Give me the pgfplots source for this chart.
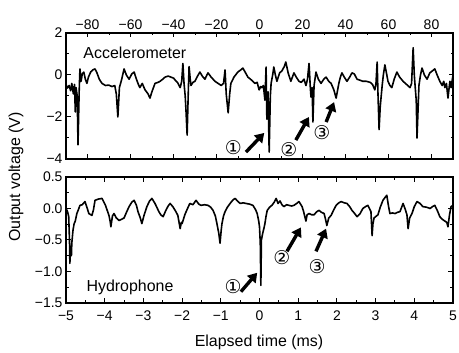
\documentclass[border=0pt]{standalone}
\usepackage{pgfplots}
\pgfplotsset{compat=1.18}
\usepackage{pgfplotstable}
\usepackage{fontspec}
\setmainfont{Liberation Sans}
\newfontfamily\dejavu{DejaVu Sans}
\usetikzlibrary{arrows.meta}

\pgfplotstableread{
t v
-5.00 -0.45
-4.96 -0.62
-4.92 -0.50
-4.88 -0.75
-4.85 -0.40
-4.81 -0.90
-4.78 -0.45
-4.76 -1.76
-4.74 -0.60
-4.71 -1.00
-4.69 -3.33
-4.66 -0.80
-4.64 0.29
-4.61 -0.30
-4.58 0.05
-4.54 0.14
-4.50 -0.20
-4.46 -0.40
-4.42 -0.10
-4.36 0.15
-4.30 0.25
-4.25 0.29
-4.20 0.10
-4.14 -0.20
-4.07 -0.40
-3.98 -0.50
-3.90 -0.48
-3.81 -0.55
-3.74 -0.50
-3.70 -0.90
-3.66 -2.00
-3.62 -0.60
-3.56 -0.20
-3.50 0.29
-3.44 0.00
-3.37 -0.20
-3.30 0.05
-3.24 0.14
-3.18 -0.20
-3.13 -0.45
-3.09 -0.60
-3.03 -0.40
-2.96 -0.70
-2.88 -0.90
-2.83 -1.10
-2.78 -0.80
-2.70 -0.40
-2.62 -0.35
-2.57 -0.30
-2.50 -0.20
-2.44 -0.10
-2.36 -0.05
-2.29 -0.10
-2.22 -0.15
-2.18 -0.24
-2.12 -0.35
-2.05 -0.60
-2.01 -0.30
-1.98 0.55
-1.95 -0.40
-1.92 -1.00
-1.90 -1.67
-1.87 -2.86
-1.84 -0.80
-1.82 0.40
-1.79 -0.20
-1.77 -0.50
-1.72 -0.35
-1.67 -0.30
-1.60 -0.05
-1.54 0.14
-1.48 -0.05
-1.41 -0.20
-1.36 0.00
-1.33 0.10
-1.25 -0.10
-1.15 -0.30
-1.07 -0.40
-0.99 -0.50
-0.93 -0.40
-0.89 0.24
-0.86 -0.90
-0.81 -1.80
-0.77 -0.90
-0.74 -0.40
-0.66 -0.10
-0.56 0.14
-0.48 0.25
-0.43 0.33
-0.36 0.10
-0.30 -0.10
-0.20 -0.25
-0.12 -0.40
-0.06 -0.35
-0.01 -0.71
0.03 -0.55
0.06 -0.60
0.10 -0.50
0.14 -1.20
0.17 0.38
0.19 -2.10
0.22 -0.80
0.25 -3.67
0.28 -1.00
0.30 -0.40
0.34 0.00
0.37 0.38
0.41 0.00
0.45 -0.30
0.52 0.10
0.58 0.20
0.64 0.40
0.68 0.62
0.74 0.10
0.81 -0.30
0.85 -0.10
0.89 0.10
0.95 -0.10
1.02 -0.30
1.08 -0.35
1.15 -0.20
1.20 -0.50
1.24 -0.20
1.28 0.55
1.31 -0.50
1.33 -1.05
1.36 -0.60
1.38 -2.24
1.41 -0.50
1.46 0.14
1.52 -0.20
1.59 -0.40
1.66 -0.20
1.72 -0.10
1.79 -0.30
1.85 -0.40
1.92 -0.70
1.98 -1.10
2.02 -0.70
2.05 -0.40
2.09 -0.10
2.13 0.10
2.19 -0.10
2.26 -0.30
2.33 -0.10
2.39 0.10
2.45 0.05
2.52 -0.20
2.60 -0.25
2.67 -0.30
2.76 -0.30
2.86 -0.35
2.92 -0.45
2.98 -0.71
3.01 -0.40
3.04 0.62
3.06 -0.80
3.09 -2.60
3.12 -1.50
3.17 -0.50
3.20 0.00
3.24 0.48
3.28 0.10
3.32 -0.30
3.37 -0.50
3.42 -0.60
3.48 -0.20
3.55 0.14
3.62 -0.10
3.71 -0.30
3.80 -0.45
3.89 -0.60
3.93 -0.40
3.97 1.30
4.00 0.00
4.02 -0.50
4.05 -1.20
4.07 -3.00
4.10 -1.50
4.12 -0.50
4.16 0.00
4.20 0.33
4.26 0.00
4.33 -0.20
4.40 0.10
4.47 0.20
4.53 0.29
4.59 0.00
4.66 -0.30
4.72 -0.50
4.76 -0.30
4.79 -0.60
4.83 -0.40
4.87 -1.10
4.90 -0.60
4.92 -0.30
4.95 -0.60
5.00 0.00
}\accel

\pgfplotstableread{
t v
-5.00 0.00
-4.96 -0.05
-4.93 -0.13
-4.91 -0.50
-4.90 -0.87
-4.88 -0.60
-4.86 -0.75
-4.85 -0.55
-4.82 -0.35
-4.79 -0.24
-4.76 -0.20
-4.72 -0.08
-4.68 -0.02
-4.64 0.05
-4.58 0.06
-4.51 0.11
-4.46 0.02
-4.41 -0.08
-4.33 -0.11
-4.29 -0.02
-4.25 0.13
-4.16 0.15
-4.07 0.16
-3.98 0.05
-3.89 -0.11
-3.86 -0.20
-3.84 -0.29
-3.80 -0.12
-3.76 -0.08
-3.70 -0.15
-3.63 -0.19
-3.56 -0.17
-3.50 -0.15
-3.43 -0.05
-3.37 0.03
-3.30 0.10
-3.24 0.13
-3.18 0.05
-3.14 -0.05
-3.08 -0.15
-3.04 -0.24
-2.98 -0.10
-2.91 0.03
-2.84 0.12
-2.78 0.16
-2.70 0.08
-2.60 -0.05
-2.55 -0.10
-2.49 -0.13
-2.42 -0.03
-2.36 0.04
-2.31 0.08
-2.24 0.03
-2.16 -0.05
-2.11 -0.11
-2.07 -0.25
-2.05 -0.32
-2.02 -0.22
-2.00 -0.24
-1.93 -0.10
-1.86 0.00
-1.80 0.08
-1.72 0.06
-1.64 0.13
-1.57 0.07
-1.51 0.05
-1.42 0.06
-1.33 0.05
-1.26 0.02
-1.20 -0.03
-1.14 -0.12
-1.10 -0.24
-1.05 -0.40
-1.02 -0.55
-0.99 -0.35
-0.97 -0.24
-0.93 -0.12
-0.89 -0.05
-0.83 0.02
-0.76 0.08
-0.68 0.14
-0.63 0.16
-0.57 0.12
-0.50 0.08
-0.42 0.09
-0.35 0.08
-0.26 0.07
-0.17 0.05
-0.10 -0.02
-0.06 -0.08
-0.02 -0.20
0.00 -0.29
0.02 -0.55
0.035 -1.22
0.05 -0.50
0.08 -0.40
0.12 -0.30
0.14 -0.24
0.17 -0.12
0.20 -0.03
0.26 0.02
0.32 0.05
0.38 0.10
0.43 0.16
0.48 0.08
0.53 0.12
0.58 0.06
0.63 0.03
0.70 0.06
0.76 0.05
0.83 0.04
0.89 0.05
0.96 0.08
1.02 0.11
1.07 0.06
1.10 0.03
1.14 -0.05
1.18 -0.15
1.20 -0.20
1.23 -0.10
1.28 -0.08
1.35 -0.10
1.41 -0.10
1.48 -0.05
1.54 -0.03
1.60 -0.06
1.67 -0.08
1.71 -0.18
1.74 -0.27
1.79 -0.15
1.85 -0.11
1.92 -0.02
1.98 0.05
2.05 0.09
2.11 0.11
2.19 0.09
2.26 0.08
2.33 0.03
2.39 -0.03
2.46 -0.08
2.52 -0.13
2.60 -0.08
2.67 0.00
2.74 0.03
2.80 0.05
2.88 -0.05
2.91 -0.43
2.93 -0.25
2.96 -0.15
3.06 -0.10
3.12 0.02
3.19 0.13
3.25 0.18
3.29 0.21
3.33 0.05
3.37 -0.08
3.44 -0.07
3.50 -0.08
3.57 -0.06
3.63 -0.05
3.71 0.08
3.77 -0.02
3.81 -0.10
3.84 -0.32
3.88 -0.15
3.94 -0.08
4.00 0.03
4.07 0.11
4.15 0.08
4.22 0.03
4.32 0.02
4.41 0.00
4.47 0.03
4.53 0.05
4.60 -0.04
4.66 -0.13
4.72 -0.17
4.79 -0.20
4.84 -0.22
4.87 -0.29
4.91 -0.10
4.95 0.03
5.00 0.05
}\hydro

\pgfplotsset{
  panel/.style={
    scale only axis, width=387bp, height=126bp, anchor=south west,
    axis line style={line width=1.1bp},
    tick align=inside, tick pos=both,
    major tick length=4.5bp, minor tick length=2.5bp,
    every tick/.style={line width=1bp, black},
    ticklabel style={font=\fontsize{14}{14}\selectfont},
    clip=true,
  },
}
\tikzset{
  arr/.style={line width=3.4bp, -{Triangle[length=9bp,width=11bp]}},
  circ/.style={font=\dejavu\fontsize{19}{19}\selectfont, inner sep=0pt},
}

\begin{document}
\begin{tikzpicture}
\begin{axis}[panel, at={(66bp,194bp)},
  xmin=-90, xmax=90, ymin=-4, ymax=2,
  xtick={-80,-60,-40,-20,0,20,40,60,80},
  xticklabels={−80,−60,−40,−20,0,20,40,60,80},
  minor xtick={-90,-70,-50,-30,-10,10,30,50,70,90},
  xticklabel pos=upper,
  ytick={-4,-2,0,2}, yticklabels={−4,−2,0,2},
  minor ytick={-3,-1,1},
]
\addplot[black, line width=1.6bp, line join=round] table[x expr=\thisrow{t}*18, y=v] {\accel};
\node[anchor=west, font=\fontsize{16}{16}\selectfont] at (axis cs:-83.5,1.05) {Accelerometer};
\node[circ] at (axis cs:-12.2,-3.48) {①};
\node[circ] at (axis cs:13.7,-3.57) {②};
\node[circ] at (axis cs:29.0,-2.76) {③};
\draw[arr] (axis cs:-6.3,-3.67) -- (axis cs:2.2,-2.76);
\draw[arr] (axis cs:16.9,-3.10) -- (axis cs:23.0,-2.0);
\draw[arr] (axis cs:31.0,-2.24) -- (axis cs:34.7,-1.29);
\end{axis}

\begin{axis}[panel, at={(66bp,50bp)},
  xmin=-5, xmax=5, ymin=-1.5, ymax=0.5,
  xtick={-5,-4,-3,-2,-1,0,1,2,3,4,5},
  xticklabels={−5,−4,−3,−2,−1,0,1,2,3,4,5},
  minor x tick num=1,
  xticklabel style={yshift=-4bp},
  ytick={-1.5,-1,-0.5,0,0.5}, yticklabels={−1.5,−1.0,−0.5,0.0,0.5},
  minor y tick num=1,
]
\addplot[black, line width=1.6bp, line join=round] table[x=t, y=v] {\hydro};
\node[anchor=west, font=\fontsize{16}{16}\selectfont] at (axis cs:-4.56,-1.25) {Hydrophone};
\node[circ] at (axis cs:-0.68,-1.24) {①};
\node[circ] at (axis cs:0.58,-0.78) {②};
\node[circ] at (axis cs:1.49,-0.92) {③};
\draw[arr] (axis cs:-0.48,-1.32) -- (axis cs:-0.06,-1.02);
\draw[arr] (axis cs:0.71,-0.68) -- (axis cs:1.07,-0.30);
\draw[arr] (axis cs:1.46,-0.68) -- (axis cs:1.72,-0.32);
\end{axis}

\node[rotate=90, font=\fontsize{16}{16}\selectfont] at (16bp,176bp) {Output voltage (V)};
\node[font=\fontsize{16}{16}\selectfont] at (259bp,11bp) {Elapsed time (ms)};
\pgfresetboundingbox
\useasboundingbox (0,0) rectangle (459bp,353bp);
\end{tikzpicture}
\end{document}
